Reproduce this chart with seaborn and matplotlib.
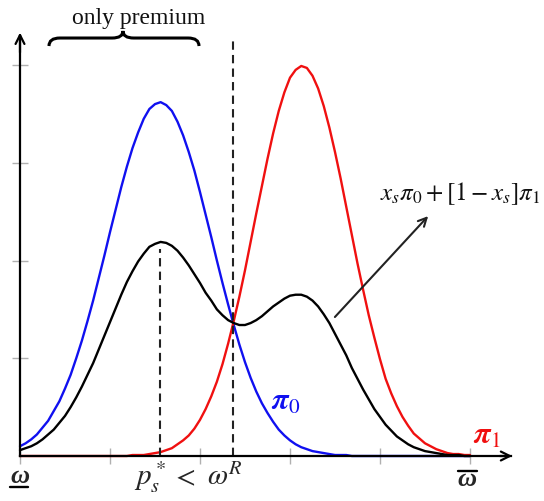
import matplotlib
matplotlib.use("Agg")
import matplotlib.pyplot as plt
from matplotlib.path import Path
from matplotlib.patches import PathPatch
import seaborn as sns
import pandas as pd
import numpy as np

# omega grid (axis ticks at 0..5)
omega = np.arange(0, 5.0001, 0.0625)

# densities
pi0 = [0.10, 0.13, 0.17, 0.22, 0.29, 0.36, 0.46, 0.56, 0.69, 0.83,
       1.00, 1.18, 1.38, 1.59, 1.82, 2.05, 2.29, 2.52, 2.75, 2.96,
       3.15, 3.31, 3.45, 3.55, 3.60, 3.62, 3.59, 3.53, 3.42, 3.28,
       3.11, 2.92, 2.70, 2.47, 2.24, 2.00, 1.77, 1.55, 1.34, 1.14,
       0.96, 0.80, 0.66, 0.54, 0.44, 0.35, 0.27, 0.21, 0.16, 0.12,
       0.09, 0.07, 0.05, 0.04, 0.03, 0.02, 0.01, 0.01, 0.01, 0.00,
       0.00, 0.00, 0.00, 0.00, 0.00, 0.00, 0.00, 0.00, 0.00, 0.00,
       0.00, 0.00, 0.00, 0.00, 0.00, 0.00, 0.00, 0.00, 0.00, 0.00, 0.00]
pi1 = [0.00, 0.00, 0.00, 0.00, 0.00, 0.00, 0.00, 0.00, 0.00, 0.00,
       0.00, 0.00, 0.00, 0.00, 0.00, 0.00, 0.00, 0.00, 0.00, 0.00,
       0.01, 0.01, 0.01, 0.02, 0.03, 0.04, 0.06, 0.08, 0.12, 0.16,
       0.21, 0.28, 0.37, 0.48, 0.61, 0.76, 0.94, 1.15, 1.38, 1.63,
       1.90, 2.19, 2.48, 2.76, 3.04, 3.30, 3.53, 3.72, 3.87, 3.95,
       3.99, 3.97, 3.89, 3.76, 3.58, 3.36, 3.11, 2.84, 2.55, 2.26,
       1.97, 1.70, 1.44, 1.21, 0.99, 0.79, 0.64, 0.51, 0.40, 0.31,
       0.23, 0.18, 0.13, 0.10, 0.07, 0.05, 0.03, 0.02, 0.02, 0.01, 0.01]
mix = [0.06, 0.08, 0.10, 0.13, 0.17, 0.22, 0.27, 0.34, 0.41, 0.50,
       0.60, 0.71, 0.83, 0.95, 1.09, 1.23, 1.37, 1.51, 1.65, 1.78,
       1.89, 1.99, 2.07, 2.14, 2.17, 2.19, 2.18, 2.15, 2.10, 2.03,
       1.95, 1.86, 1.77, 1.67, 1.59, 1.50, 1.44, 1.39, 1.36, 1.34,
       1.34, 1.36, 1.39, 1.43, 1.48, 1.53, 1.57, 1.61, 1.64, 1.65,
       1.65, 1.63, 1.59, 1.53, 1.45, 1.36, 1.25, 1.14, 1.03, 0.90,
       0.79, 0.68, 0.58, 0.48, 0.40, 0.32, 0.26, 0.20, 0.16, 0.12,
       0.09, 0.07, 0.05, 0.04, 0.03, 0.02, 0.01, 0.01, 0.01, 0.00, 0.00]

p_s = 1.556       # p_s^*
omega_R = 2.367   # omega^R
ticks_x = [0, 1, 2, 3, 4, 5]
ticks_y = [1, 2, 3, 4]

df = pd.DataFrame({
    "omega": np.concatenate([omega, omega, omega]),
    "dens": pi0 + pi1 + mix,
    "curve": ["pi0"] * len(omega) + ["pi1"] * len(omega) + ["mix"] * len(omega),
})

sns.set_style("white")
plt.rcParams["mathtext.fontset"] = "stix"

blue = "#1010f0"
red = "#f01010"

fig = plt.figure(figsize=(5.44, 5.02), dpi=100)
ax = fig.add_axes([0, 0, 1, 1])

sns.lineplot(data=df, x="omega", y="dens", hue="curve",
             palette={"pi0": blue, "pi1": red, "mix": "black"},
             linewidth=1.7, legend=False, ax=ax, sort=False)

ax.set_xlim(-20 / 90, 524 / 90)
ax.set_ylim(-45 / 97.75, 457 / 97.75)

# axes through the origin, with arrows
for side in ["top", "right"]:
    ax.spines[side].set_visible(False)
ax.spines["left"].set_position(("data", 0))
ax.spines["bottom"].set_position(("data", 0))
ax.spines["left"].set_bounds(0, 4.3)
ax.spines["bottom"].set_bounds(0, 5.45)
for side in ["left", "bottom"]:
    ax.spines[side].set_linewidth(1.6)
    ax.spines[side].set_color("black")
ax.annotate("", xy=(5.5, 0), xytext=(5.3, 0),
            arrowprops=dict(arrowstyle="->", lw=1.6, color="black", mutation_scale=16))
ax.annotate("", xy=(0, 4.36), xytext=(0, 4.1),
            arrowprops=dict(arrowstyle="->", lw=1.6, color="black", mutation_scale=16))
ax.set_xticks(ticks_x)
ax.set_yticks(ticks_y)
ax.set_xticklabels([])
ax.set_yticklabels([])
ax.tick_params(axis="both", direction="inout", length=11, width=1,
               color="#b0b0b0", bottom=True, left=True)
ax.set_xlabel("")
ax.set_ylabel("")

# dashed guides
ax.plot([p_s, p_s], [0, 2.12], ls=(0, (4, 2.5)), lw=1.5, color="#222222")
ax.plot([omega_R, omega_R], [0, 4.29], ls=(0, (4, 2.5)), lw=1.5, color="#222222")

# brace over "only premium"
x0, xm, x1 = 0.322, 1.144, 1.989
yb, yl, yt = 4.194, 4.276, 4.348
verts = [(x0, yb), (x0, yl), (x0 + 0.12, yl),
         (xm - 0.12, yl), (xm, yl), (xm, yt),
         (xm, yl), (xm + 0.12, yl),
         (x1 - 0.12, yl), (x1, yl), (x1, yb)]
codes = [Path.MOVETO, Path.CURVE3, Path.CURVE3,
         Path.LINETO, Path.CURVE3, Path.CURVE3,
         Path.CURVE3, Path.CURVE3,
         Path.LINETO, Path.CURVE3, Path.CURVE3]
ax.add_patch(PathPatch(Path(verts, codes), fill=False, lw=2.2, color="black"))
ax.text(1.322, 4.43, "only premium", ha="center", va="baseline",
        fontsize=17, family="Liberation Serif", color="#111111")

# mixture label with arrow
ax.annotate("", xy=(4.556, 2.475), xytext=(3.478, 1.401),
            arrowprops=dict(arrowstyle="->", lw=1.5, color="#222222", mutation_scale=15))
ax.text(4.889, 2.63, r"$x_s\pi_0+[1-x_s]\pi_1$", ha="center", va="baseline",
        fontsize=18, color="#111111")

# curve labels
ax.text(2.96, 0.48, r"$\boldsymbol{\pi}_0$", color=blue, ha="center",
        va="baseline", fontsize=22)
ax.text(5.19, 0.13, r"$\boldsymbol{\pi}_1$", color=red, ha="center",
        va="baseline", fontsize=22)

# bottom labels
ax.text(0.0, -0.266, "ω", ha="center", va="baseline", fontsize=19,
        family="Liberation Serif", style="italic", weight="bold")
ax.plot([-0.11, 0.09], [-0.318, -0.318], color="black", lw=1.7, clip_on=False)
ax.text(4.967, -0.296, "ω", ha="center", va="baseline", fontsize=19,
        family="Liberation Serif", style="italic", weight="bold")
ax.plot([4.87, 5.08], [-0.154, -0.154], color="black", lw=1.7, clip_on=False)
ax.text(1.444, -0.286, r"$p_s^*$", ha="center", va="baseline", fontsize=21)
ax.text(1.811, -0.286, r"$<$", ha="center", va="baseline", fontsize=21)
ax.text(2.28, -0.286, r"$\omega^R$", ha="center", va="baseline", fontsize=21)

fig.savefig("out.png", dpi=100)
